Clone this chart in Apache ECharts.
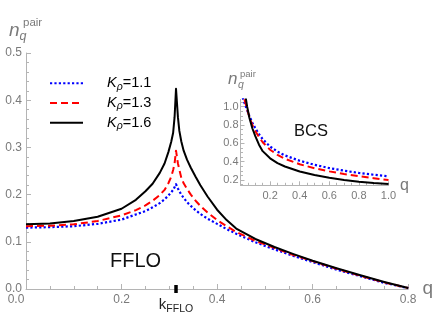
<!DOCTYPE html>
<html><head><meta charset="utf-8">
<script src="https://cdn.jsdelivr.net/npm/echarts@6/dist/echarts.min.js"></script>
<style>html,body{margin:0;padding:0;background:#fff}#c{width:436px;height:321px}</style>
</head><body><div id="c"></div>
<script>
// ---------- data ----------
const kappaLabels = ['1.1', '1.3', '1.6'];
const kFFLO = 0.314;

// main (FFLO) panel
const mainQ   = [0, 0.05, 0.1, 0.15, 0.2, 0.23, 0.25, 0.265, 0.28, 0.29, 0.298, 0.304, 0.308, 0.311, 0.314, 0.318, 0.321, 0.325, 0.33, 0.337, 0.345, 0.355, 0.365, 0.38, 0.40, 0.42, 0.44, 0.48, 0.52, 0.56, 0.60, 0.65, 0.70, 0.75, 0.80];
const mainK11 = [0.130, 0.131, 0.133, 0.138, 0.147, 0.158, 0.165, 0.173, 0.182, 0.190, 0.198, 0.205, 0.210, 0.214, 0.222, 0.213, 0.207, 0.200, 0.193, 0.184, 0.176, 0.167, 0.159, 0.149, 0.138, 0.127, 0.117, 0.099, 0.084, 0.070, 0.057, 0.041, 0.027, 0.013, 0.002];
const mainK13 = [0.133, 0.134, 0.137, 0.144, 0.156, 0.167, 0.177, 0.187, 0.199, 0.210, 0.224, 0.238, 0.252, 0.266, 0.293, 0.266, 0.253, 0.236, 0.224, 0.212, 0.200, 0.187, 0.176, 0.162, 0.146, 0.133, 0.121, 0.102, 0.087, 0.072, 0.059, 0.043, 0.028, 0.014, 0.002];
const mainK16 = [0.137, 0.139, 0.144, 0.153, 0.170, 0.189, 0.207, 0.223, 0.246, 0.266, 0.290, 0.312, 0.331, 0.364, 0.424, 0.364, 0.335, 0.313, 0.293, 0.274, 0.257, 0.238, 0.220, 0.196, 0.168, 0.146, 0.128, 0.106, 0.089, 0.074, 0.060, 0.044, 0.029, 0.015, 0.002];

// inset (BCS) panel
const insetQ   = [0.015, 0.025, 0.035, 0.045, 0.06, 0.08, 0.1, 0.125, 0.15, 0.2, 0.25, 0.3, 0.4, 0.5, 0.6, 0.7, 0.8, 0.9, 1.0];
const insetK11 = [1.10, 1.05, 1.005, 0.962, 0.90, 0.826, 0.765, 0.70, 0.645, 0.565, 0.51, 0.468, 0.41, 0.366, 0.33, 0.302, 0.277, 0.257, 0.24];
const insetK13 = [1.20, 1.09, 1.03, 0.97, 0.89, 0.80, 0.735, 0.67, 0.612, 0.53, 0.475, 0.432, 0.372, 0.328, 0.294, 0.265, 0.241, 0.219, 0.2];
const insetK16 = [1.6, 1.3, 1.1, 1.0, 0.88, 0.765, 0.68, 0.585, 0.515, 0.437, 0.385, 0.347, 0.293, 0.254, 0.224, 0.2, 0.181, 0.166, 0.155];

const insetMajorY = [0.2, 0.4, 0.6, 0.8, 1.0];
const insetMinorY = [0.15, 0.25, 0.3, 0.35, 0.45, 0.5, 0.55, 0.65, 0.7, 0.75, 0.85, 0.9, 0.95, 1.05];

// ---------- styles ----------
const FONT = 'Liberation Sans';
const AX = '#b4b4b4';
const LBL = '#7a7a7a';
const styles = [
  {color: '#0000ff', type: [2.2, 2.2], width: 2.2},
  {color: '#ff0000', type: [7, 4], width: 2},
  {color: '#000000', type: 'solid', width: 2}
];
const pair = (xs, ys) => xs.map((x, i) => [x, ys[i]]);
const mainSets = [mainK11, mainK13, mainK16];
const insetSets = [insetK11, insetK13, insetK16];
const names = kappaLabels.map(k => 'K' + k);

const chart = echarts.init(document.getElementById('c'), null, {renderer: 'canvas'});

const baseAxis = {
  axisLine: {show: true, lineStyle: {color: AX, width: 1}},
  splitLine: {show: false},
  axisTick: {show: true, inside: true, length: 5, lineStyle: {color: AX}},
  minorTick: {show: true, length: 3, lineStyle: {color: AX}},
  axisLabel: {color: LBL, fontFamily: FONT, fontSize: 12},
};

const series = [];
mainSets.forEach((d, i) => {
  series.push({
    name: names[i], type: 'line', xAxisIndex: 0, yAxisIndex: 0,
    data: pair(mainQ, d), symbol: 'none', smooth: false,
    lineStyle: Object.assign({join: 'round'}, styles[i]), itemStyle: {color: styles[i].color},
    z: 3 + i,
    markPoint: i === 2 ? {
      symbol: 'rect', symbolSize: [3.5, 8], silent: true,
      itemStyle: {color: '#000'},
      data: [{coord: [kFFLO, 0]}],
      label: {
        show: true, position: 'bottom', distance: 2,
        formatter: '{k|k}{f|FFLO}',
        rich: {
          k: {fontFamily: FONT, fontSize: 15, color: '#222'},
          f: {fontFamily: FONT, fontSize: 10.5, color: '#222', padding: [9, 0, 0, 0]}
        }
      }
    } : undefined
  });
});
insetSets.forEach((d, i) => {
  series.push({
    name: names[i] + ' BCS', type: 'line', xAxisIndex: 1, yAxisIndex: 1,
    data: pair(insetQ, d), symbol: 'none', smooth: false, clip: true,
    lineStyle: Object.assign({join: 'round'}, styles[i]), itemStyle: {color: styles[i].color},
    z: 3 + i
  });
});

chart.setOption({
  animation: false,
  backgroundColor: '#fff',
  grid: [
    {left: 26, right: 27, top: 53, bottom: 32},
    {left: 240.5, width: 148, top: 99.4, height: 85.9}
  ],
  xAxis: [
    Object.assign({}, baseAxis, {
      type: 'value', gridIndex: 0, min: 0, max: 0.8, interval: 0.2,
      minorTick: {show: true, splitNumber: 4, length: 3, lineStyle: {color: AX}},
      name: 'q', nameLocation: 'end', nameGap: 4,
      nameTextStyle: {color: LBL, fontFamily: FONT, fontSize: 19, padding: [4, 0, 0, 0]},
      axisLabel: {
        color: LBL, fontFamily: FONT, fontSize: 12, margin: 5,
        formatter: v => v === 0 ? '{z|0.0}' : v.toFixed(1),
        rich: {z: {color: LBL, fontFamily: FONT, fontSize: 12, padding: [0, 20, 0, 0]}}
      }
    }),
    Object.assign({}, baseAxis, {
      type: 'value', gridIndex: 1, min: 0, max: 1.0, interval: 0.2,
      axisTick: {show: true, inside: true, length: 4, lineStyle: {color: AX}},
      minorTick: {show: true, splitNumber: 4, length: 2.5, lineStyle: {color: AX}},
      name: 'q', nameLocation: 'end', nameGap: 8,
      nameTextStyle: {color: LBL, fontFamily: FONT, fontSize: 16},
      axisLabel: {color: LBL, fontFamily: FONT, fontSize: 11, margin: 5, showMinLabel: false,
        formatter: v => v.toFixed(1)}
    })
  ],
  yAxis: [
    Object.assign({}, baseAxis, {
      type: 'value', gridIndex: 0, min: 0, max: 0.5, interval: 0.1,
      minorTick: {show: true, splitNumber: 5, length: 3, lineStyle: {color: AX}},
      axisLabel: {color: LBL, fontFamily: FONT, fontSize: 12, margin: 4, formatter: v => v.toFixed(1)}
    }),
    Object.assign({}, baseAxis, {
      type: 'value', gridIndex: 1, min: 0.142, max: 1.08,
      axisTick: {show: true, inside: true, length: 4, customValues: insetMajorY, lineStyle: {color: AX}},
      minorTick: {show: false},
      axisLabel: {color: LBL, fontFamily: FONT, fontSize: 11, margin: 2, customValues: insetMajorY,
        formatter: v => v.toFixed(1)}
    }),
    {
      type: 'value', gridIndex: 1, min: 0.142, max: 1.08, position: 'left',
      axisLine: {show: false}, splitLine: {show: false},
      axisTick: {show: true, inside: true, length: 2.5, customValues: insetMinorY, lineStyle: {color: AX}},
      axisLabel: {show: false}
    }
  ],
  legend: {
    data: names, orient: 'vertical', left: 44, top: 70.7,
    itemWidth: 33, itemHeight: 14, itemGap: 3.3,
    itemStyle: {opacity: 0},
    formatter: name => '{k|K}{s|ρ}{t|=' + name.slice(1) + '}',
    textStyle: {
      padding: [0, 0, 0, 19],
      rich: {
        k: {fontFamily: FONT, fontStyle: 'italic', fontSize: 14.5, color: '#000', lineHeight: 18},
        s: {fontFamily: FONT, fontStyle: 'italic', fontSize: 10.5, color: '#000', lineHeight: 10, verticalAlign: 'bottom'},
        t: {fontFamily: FONT, fontSize: 14.5, color: '#000', lineHeight: 18}
      }
    },
    selectedMode: false
  },
  graphic: [
    // main y-axis label  n_q^pair
    {type: 'text', left: 9, top: 21, style: {text: 'n', font: 'italic 19px "Liberation Sans"', fill: LBL}},
    {type: 'text', left: 23, top: 17, style: {text: 'pair', font: '11.5px "Liberation Sans"', fill: LBL}},
    {type: 'text', left: 19.5, top: 30, style: {text: 'q', font: 'italic 12.5px "Liberation Sans"', fill: LBL}},
    // inset y-axis label
    {type: 'text', left: 228, top: 71, style: {text: 'n', font: 'italic 17px "Liberation Sans"', fill: LBL}},
    {type: 'text', left: 240, top: 69, style: {text: 'pair', font: '9.5px "Liberation Sans"', fill: LBL}},
    {type: 'text', left: 238, top: 80, style: {text: 'q', font: 'italic 10.5px "Liberation Sans"', fill: LBL}},
    // region labels
    {type: 'text', left: 110, top: 251, style: {text: 'FFLO', font: '20px "Liberation Sans"', fill: '#111'}},
    {type: 'text', left: 294, top: 123, style: {text: 'BCS', font: '16.5px "Liberation Sans"', fill: '#111'}}
  ],
  series: series
});
</script>
</body></html>
